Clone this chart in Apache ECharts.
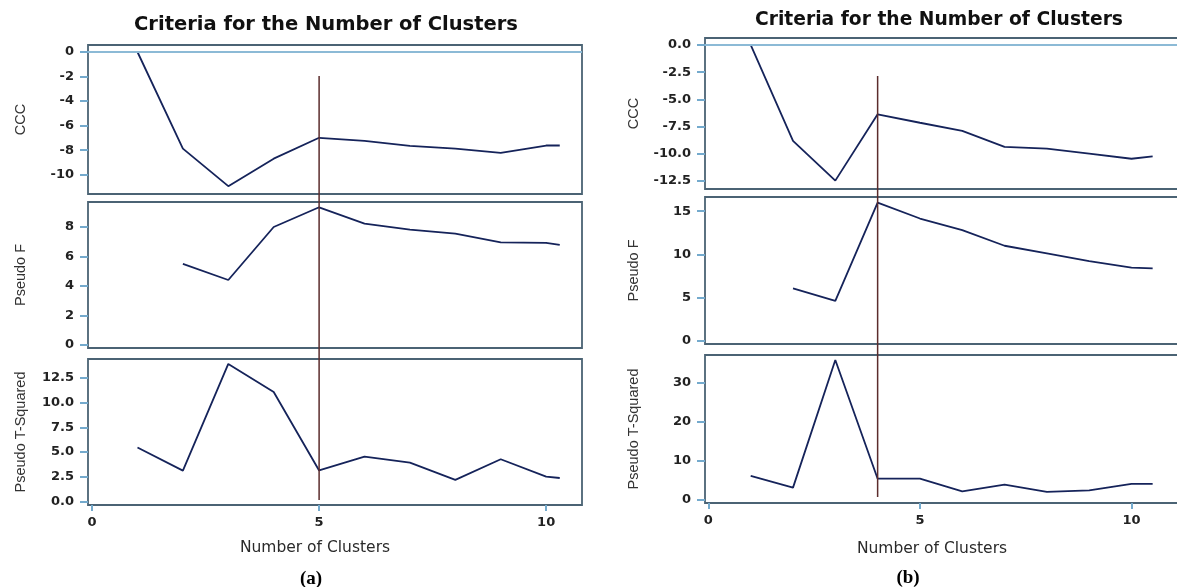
<!DOCTYPE html>
<html><head><meta charset="utf-8">
<script src="https://cdn.jsdelivr.net/npm/echarts@6/dist/echarts.min.js"></script>
<style>html,body{margin:0;padding:0;background:#fff}#c{width:1177px;height:587px}</style>
</head><body><div id="c"></div>
<script>
// ---- data (a) ----
const clustersA = [1, 2, 3, 4, 5, 6, 7, 8, 9, 10, 10.3];
const cccA      = [0, -7.87, -10.93, -8.69, -6.99, -7.24, -7.65, -7.87, -8.22, -7.62, -7.62];
const pseudoFA  = [null, 5.49, 4.40, 8.0, 9.34, 8.23, 7.82, 7.55, 6.96, 6.92, 6.78];
const pseudoTA  = [5.46, 3.13, 13.88, 11.05, 3.15, 4.55, 3.94, 2.2, 4.28, 2.53, 2.39];
const chosenA = 5;
// ---- data (b) ----
const clustersB = [1, 2, 3, 4, 5, 6, 7, 8, 9, 10, 10.5];
const cccB      = [0, -8.82, -12.47, -6.37, -7.15, -7.89, -9.37, -9.53, -9.99, -10.46, -10.24];
const pseudoFB  = [null, 6.05, 4.59, 16.0, 14.15, 12.8, 10.99, 10.1, 9.2, 8.45, 8.37];
const pseudoTB  = [6.02, 3.0, 35.85, 5.3, 5.33, 2.06, 3.78, 1.89, 2.3, 3.95, 3.95];
const chosenB = 4;
// ---- tick labels ----
const xTicks    = [0, 5, 10];
const cccTicksA = [0, -2, -4, -6, -8, -10];
const fTicksA   = [0, 2, 4, 6, 8];
const tTicksA   = [0, 2.5, 5, 7.5, 10, 12.5];
const cccTicksB = [0, -2.5, -5, -7.5, -10, -12.5];
const fTicksB   = [0, 5, 10, 15];
const tTicksB   = [0, 10, 20, 30];
const yNames = ['CCC', 'Pseudo F', 'Pseudo T-Squared'];
const titleText = 'Criteria for the Number of Clusters';
const xName = 'Number of Clusters';
const panelLabels = ['(a)', '(b)'];

// ---- layout / style ----
const FRAME = '#4b6374', TICK = '#74aacd', LINE = '#15235a', REF = '#5b2c2c', ZERO = '#8cbad6';
const panels = [
  {x: clustersA, ys: [cccA, pseudoFA, pseudoTA], ticks: [cccTicksA, fTicksA, tTicksA], dec: [0, 0, 1],
   left: 88, width: 494, xmin: -0.09, xmax: 10.79, tops: [45, 202, 359], heights: [149, 146, 146],
   ranges: [[-11.57, 0.57], [-0.22, 9.7], [-0.33, 14.38]], nameGap: 60, ref: chosenA, refTop: 76, refH: 424,
   title: [326, 25, 19.5], xn: [315, 548], pl: [311, 579]},
  {x: clustersB, ys: [cccB, pseudoFB, pseudoTB], ticks: [cccTicksB, fTicksB, tTicksB], dec: [1, 0, 0],
   left: 705, width: 476, xmin: -0.08, xmax: 11.17, tops: [38, 197, 355], heights: [151, 147, 148],
   ranges: [[-13.24, 0.64], [-0.42, 16.65], [-0.95, 37.14]], nameGap: 64, ref: chosenB, refTop: 76, refH: 421,
   title: [939, 20, 18.7], xn: [932, 549], pl: [908, 578]}
];

const grid = [], xAxis = [], yAxis = [], series = [], graphic = [];
panels.forEach((p, pi) => {
  for (let k = 0; k < 3; k++) {
    const gi = grid.length;
    grid.push({left: p.left, top: p.tops[k], width: p.width, height: p.heights[k], show: true,
      borderColor: FRAME, borderWidth: 1.8, backgroundColor: 'transparent', containLabel: false, outerBoundsMode: 'none'});
    const bottom = k === 2;
    xAxis.push({type: 'value', gridIndex: gi, min: p.xmin, max: p.xmax, show: true, position: 'bottom',
      axisLine: {show: false, onZero: false}, splitLine: {show: false},
      axisTick: {show: bottom, length: 6, lineStyle: {color: TICK, width: 2}, customValues: xTicks},
      axisLabel: {show: bottom, margin: 11, color: '#222', fontWeight: 'bold', fontSize: 13,
        fontFamily: 'DejaVu Sans', customValues: xTicks, formatter: v => String(v)}});
    const dec = p.dec[k];
    yAxis.push({type: 'value', gridIndex: gi, min: p.ranges[k][0], max: p.ranges[k][1], position: 'left',
      name: yNames[k], nameLocation: 'middle', nameRotate: 90, nameGap: p.nameGap,
      nameTextStyle: {color: '#333', fontSize: 14.5, fontFamily: 'Liberation Sans'},
      axisLine: {show: false, onZero: false}, splitLine: {show: false},
      axisTick: {show: true, length: 8, lineStyle: {color: TICK, width: 2}, customValues: p.ticks[k]},
      axisLabel: {margin: 14, color: '#222', fontWeight: 'bold', fontSize: 13, fontFamily: 'DejaVu Sans',
        customValues: p.ticks[k], formatter: v => Number(v).toFixed(dec)}});
    const data = [];
    p.x.forEach((xv, i) => { if (p.ys[k][i] !== null) data.push([xv, p.ys[k][i]]); });
    const s = {type: 'line', xAxisIndex: gi, yAxisIndex: gi, data, showSymbol: false, symbol: 'none',
      lineStyle: {color: LINE, width: 1.8}, z: 3};
    if (k === 0) {
      s.markLine = {silent: true, symbol: 'none', label: {show: false}, animation: false,
        lineStyle: {color: ZERO, width: 2, type: 'solid'}, data: [{yAxis: 0}]};
    }
    series.push(s);
  }
});
// overlay grids for the chosen-cluster reference line spanning the three panels
panels.forEach(p => {
  const gi = grid.length;
  grid.push({left: p.left, top: p.refTop, width: p.width, height: p.refH, show: false, containLabel: false, outerBoundsMode: 'none'});
  xAxis.push({type: 'value', gridIndex: gi, min: p.xmin, max: p.xmax, show: false});
  yAxis.push({type: 'value', gridIndex: gi, min: 0, max: 1, show: false});
  series.push({type: 'line', xAxisIndex: gi, yAxisIndex: gi, data: [[p.ref, 0], [p.ref, 1]],
    symbol: 'none', lineStyle: {color: REF, width: 1.5}, z: 5});
});
panels.forEach((p, pi) => {
  graphic.push({type: 'text', x: p.title[0], y: p.title[1], style: {text: titleText,
    font: 'bold ' + p.title[2] + 'px "DejaVu Sans"', fill: '#111', textAlign: 'center', textVerticalAlign: 'middle',
    align: 'center', verticalAlign: 'middle'}});
  graphic.push({type: 'text', x: p.xn[0], y: p.xn[1], style: {text: xName,
    font: '15.5px "DejaVu Sans"', fill: '#2a2a2a', textAlign: 'center', textVerticalAlign: 'middle',
    align: 'center', verticalAlign: 'middle'}});
  graphic.push({type: 'text', x: p.pl[0], y: p.pl[1], style: {text: panelLabels[pi],
    font: 'bold 19px "Liberation Serif"', fill: '#000', textAlign: 'center', textVerticalAlign: 'middle',
    align: 'center', verticalAlign: 'middle'}});
});

const chart = echarts.init(document.getElementById('c'), null, {renderer: 'canvas'});
chart.setOption({animation: false, backgroundColor: '#fff', grid, xAxis, yAxis, series, graphic});
</script></body></html>
